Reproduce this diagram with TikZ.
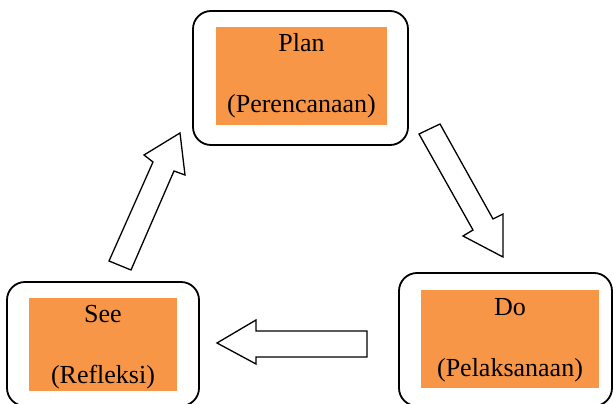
\documentclass[tikz,border=0pt]{standalone}
\usepackage{fontspec}
\setmainfont{Liberation Serif}
\definecolor{boxorange}{HTML}{F79646}
\begin{document}
\begin{tikzpicture}[x=1pt,y=-1pt,
  outerbox/.style={draw=black,line width=1.8pt,rounded corners=18pt,fill=white},
  innerbox/.style={fill=boxorange},
  lbl/.style={anchor=base,inner sep=0pt,font=\fontsize{26}{30}\selectfont},
  blockarrow/.style={draw=black,line width=1.3pt,fill=white,line join=miter}]
\useasboundingbox (0,0) rectangle (614,404);
\begin{scope}
\clip (0,0) rectangle (614,404);
% Plan
\draw[outerbox] (193,11) rectangle (408,145);
\fill[innerbox] (216,27) rectangle (387,125);
\node[lbl] (plan) at (301.5,52) {Plan};
\node[lbl] (plansub) at (301.5,113) {(Perencanaan)};
% See
\draw[outerbox] (7,282) rectangle (199,406);
\fill[innerbox] (29,298) rectangle (177,391);
\node[lbl] (see) at (103,322) {See};
\node[lbl] (seesub) at (103,383) {(Refleksi)};
% Do
\draw[outerbox] (399,273) rectangle (612,406);
\fill[innerbox] (421,290) rectangle (599,388);
\node[lbl] (do) at (510,315) {Do};
\node[lbl] (dosub) at (510,376) {(Pelaksanaan)};
\end{scope}
% arrows
\draw[blockarrow] (109,261) -- (153,162) -- (144,155) -- (180,133) -- (185,175) -- (174,171) -- (131,270) -- cycle;
\draw[blockarrow] (419,134) -- (440,124) -- (493,219) -- (503,214) -- (503,257) -- (463,236) -- (473,230) -- cycle;
\draw[blockarrow] (367,331) -- (367,357) -- (256,357) -- (256,364) -- (217,343) -- (256,320) -- (256,331) -- cycle;
\end{tikzpicture}
\end{document}
